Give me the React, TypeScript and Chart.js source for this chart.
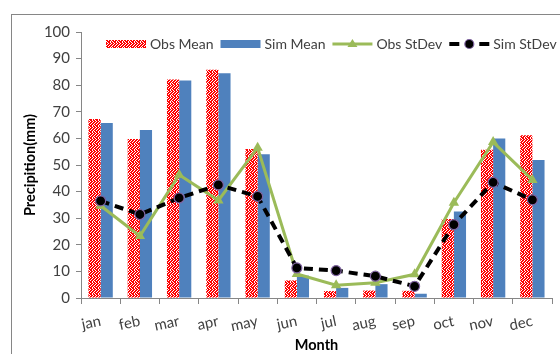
import React, { useEffect, useRef } from "react";
import { Chart, registerables } from "chart.js";

Chart.register(...registerables);

const months = ["jan", "feb", "mar", "apr", "may", "jun", "jul", "aug", "sep", "oct", "nov", "dec"];
const obsMean = [67.3, 59.8, 82.1, 85.8, 56.0, 6.6, 2.6, 2.8, 2.7, 29.7, 55.7, 61.2];
const simMean = [65.8, 63.2, 81.8, 84.5, 54.0, 8.4, 3.8, 5.2, 1.6, 32.5, 60.0, 51.9];
const obsStDev = [34.7, 23.3, 46.3, 36.7, 56.5, 9.0, 4.8, 5.7, 8.9, 35.8, 58.6, 44.4];
const simStDev = [36.5, 31.4, 37.6, 42.5, 38.2, 11.3, 10.3, 8.2, 4.4, 27.6, 43.5, 36.9];
const yTicks = [0, 10, 20, 30, 40, 50, 60, 70, 80, 90, 100];

const FONT = "Lato, 'Open Sans', sans-serif";
const TEXT = "#404040";
const AXIS = "#868686";
const BLUE = "#4F81BD";
const GREEN = "#9BBB59";
const PURPLE = "#8064A2";

// red speckled fill used for the observed-mean bars
const SPECKLE_MASK = [
  [1, 1, 0, 1, 1, 0],
  [0, 1, 1, 0, 1, 1],
  [1, 1, 0, 1, 1, 0],
  [1, 0, 1, 1, 0, 1],
  [0, 1, 1, 0, 1, 1],
  [1, 1, 0, 1, 0, 1],
];

function makeSpeckle(): CanvasPattern | string {
  const n = SPECKLE_MASK.length;
  const c = document.createElement("canvas");
  c.width = n;
  c.height = n;
  const g = c.getContext("2d");
  if (!g) return "#FF0000";
  g.fillStyle = "#ffffff";
  g.fillRect(0, 0, n, n);
  g.fillStyle = "#FF0000";
  for (let y = 0; y < n; y++)
    for (let x = 0; x < n; x++) if (SPECKLE_MASK[y][x]) g.fillRect(x, y, 1, 1);
  const p = g.createPattern(c, "repeat");
  return p || "#FF0000";
}

export default function App() {
  const ref = useRef<HTMLCanvasElement | null>(null);

  useEffect(() => {
    if (!ref.current) return;
    const speckle = makeSpeckle();

    const frame = {
      id: "frame",
      beforeDraw(chart: any) {
        const ctx = chart.ctx;
        ctx.save();
        ctx.fillStyle = "#ffffff";
        ctx.fillRect(0, 0, chart.width, chart.height);
        ctx.strokeStyle = AXIS;
        ctx.lineWidth = 1;
        ctx.strokeRect(11.5, 14.5, chart.width + 20, chart.height + 20);
        ctx.restore();
      },
    };

    const legendRow = {
      id: "legendRow",
      afterDraw(chart: any) {
        const ctx = chart.ctx;
        const ds = chart.data.datasets;
        const y = 44;
        let x = 106;
        ctx.save();
        ctx.font = `14px ${FONT}`;
        ctx.textBaseline = "middle";
        ctx.fillStyle = TEXT;
        ds.forEach((d: any, i: number) => {
          const w = 40;
          if (i === 0) {
            ctx.fillStyle = speckle;
            ctx.fillRect(x, y - 4, w, 8);
          } else if (i === 1) {
            ctx.fillStyle = BLUE;
            ctx.fillRect(x, y - 4, w, 8);
          } else if (i === 2) {
            ctx.strokeStyle = GREEN;
            ctx.lineWidth = 3;
            ctx.beginPath();
            ctx.moveTo(x, y);
            ctx.lineTo(x + w, y);
            ctx.stroke();
            ctx.fillStyle = GREEN;
            ctx.beginPath();
            ctx.moveTo(x + w / 2, y - 5);
            ctx.lineTo(x + w / 2 + 5, y + 3);
            ctx.lineTo(x + w / 2 - 5, y + 3);
            ctx.closePath();
            ctx.fill();
          } else {
            ctx.strokeStyle = "#000000";
            ctx.lineWidth = 4;
            ctx.beginPath();
            ctx.moveTo(x, y);
            ctx.lineTo(x + 10, y);
            ctx.moveTo(x + w - 10, y);
            ctx.lineTo(x + w, y);
            ctx.stroke();
            ctx.fillStyle = "#000000";
            ctx.strokeStyle = PURPLE;
            ctx.lineWidth = 1.2;
            ctx.beginPath();
            ctx.arc(x + w / 2, y, 4.5, 0, Math.PI * 2);
            ctx.fill();
            ctx.stroke();
          }
          ctx.fillStyle = TEXT;
          ctx.textAlign = "left";
          ctx.fillText(d.label, x + w + 4, y);
          x += w + 4 + ctx.measureText(d.label).width + 7;
        });
        ctx.restore();
      },
    };

    const chart = new Chart(ref.current, {
      type: "bar",
      data: {
        labels: months,
        datasets: [
          {
            type: "bar",
            label: "Obs Mean",
            data: obsMean,
            backgroundColor: speckle as any,
            borderWidth: 0,
            categoryPercentage: 0.62,
            barPercentage: 1,
            order: 2,
          },
          {
            type: "bar",
            label: "Sim Mean",
            data: simMean,
            backgroundColor: BLUE,
            borderWidth: 0,
            categoryPercentage: 0.62,
            barPercentage: 1,
            order: 3,
          },
          {
            type: "line",
            label: "Obs StDev",
            data: obsStDev,
            borderColor: GREEN,
            backgroundColor: GREEN,
            borderWidth: 3,
            pointStyle: "triangle",
            pointRadius: 6,
            pointBorderWidth: 0,
            tension: 0,
            fill: false,
            order: 1,
          },
          {
            type: "line",
            label: "Sim StDev",
            data: simStDev,
            borderColor: "#000000",
            backgroundColor: "#000000",
            borderWidth: 4,
            borderDash: [9, 6],
            pointStyle: "circle",
            pointRadius: 5,
            pointBackgroundColor: "#000000",
            pointBorderColor: PURPLE,
            pointBorderWidth: 1.2,
            tension: 0,
            fill: false,
            order: 0,
          },
        ],
      },
      options: {
        responsive: false,
        animation: false,
        devicePixelRatio: 1,
        layout: { padding: { top: 32, right: 8, left: 0, bottom: 0 } },
        plugins: {
          legend: { display: false },
          tooltip: { enabled: false },
        },
        scales: {
          x: {
            type: "category",
            offset: true,
            grid: {
              display: true,
              drawOnChartArea: false,
              offset: true,
              tickLength: 6,
              color: AXIS,
            },
            border: { color: AXIS },
            ticks: {
              minRotation: 12,
              maxRotation: 12,
              autoSkip: false,
              padding: 8,
              color: TEXT,
              font: { family: FONT, size: 15 },
            },
            title: {
              display: true,
              text: "Month",
              color: "#000000",
              font: { family: FONT, size: 14.5, weight: "bold" },
              padding: { top: 0, bottom: 0 },
            },
            afterFit(scale: any) {
              scale.height = 56;
            },
          },
          y: {
            min: 0,
            max: 100,
            afterBuildTicks(scale: any) {
              scale.ticks = yTicks.map((v) => ({ value: v }));
            },
            grid: {
              display: true,
              drawOnChartArea: false,
              tickLength: 5,
              color: AXIS,
            },
            border: { color: AXIS },
            ticks: {
              padding: 6,
              color: TEXT,
              font: { family: FONT, size: 15 },
            },
            title: {
              display: true,
              text: "Precipition(mm)",
              color: "#000000",
              font: { family: FONT, size: 14.5, weight: "bold" },
              padding: { top: 22, bottom: 0 },
            },
            afterFit(scale: any) {
              scale.width = 81;
            },
          },
        },
      },
      plugins: [frame, legendRow],
    } as any);

    return () => chart.destroy();
  }, []);

  return (
    <div style={{ position: "fixed", left: 0, top: 0, width: 560, height: 354 }}>
      <canvas ref={ref} width={560} height={354} style={{ display: "block" }} />
    </div>
  );
}
